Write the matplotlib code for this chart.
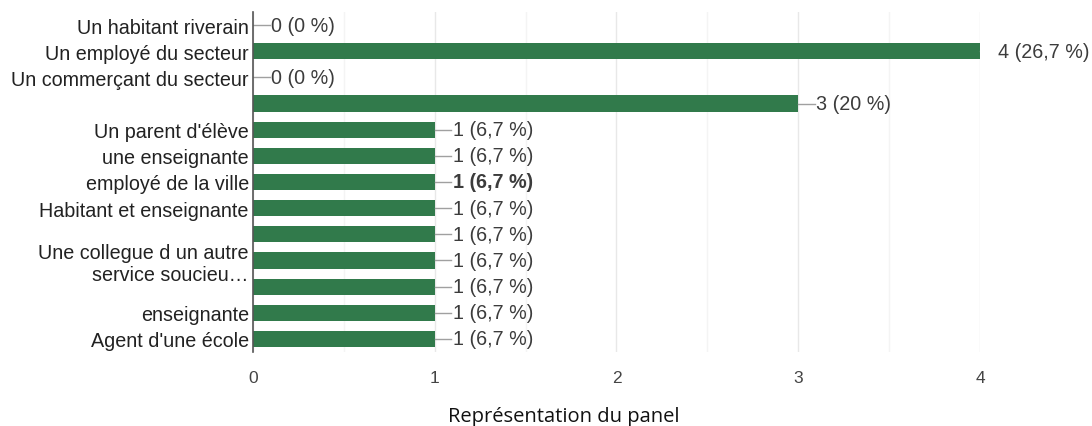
import matplotlib.pyplot as plt

plt.rcParams['font.family'] = ['Liberation Sans', 'DejaVu Sans']

categories = ["Un habitant riverain", "Un employé du secteur", "Un commerçant du secteur", "",
              "Un parent d'élève", "une enseignante", "employé de la ville", "Habitant et enseignante",
              "", "Une collegue d un autre\nservice soucieu…", "", "enseignante", "Agent d'une école"]
counts = [0, 4, 0, 3, 1, 1, 1, 1, 1, 1, 1, 1, 1]
value_labels = ["0 (0 %)", "4 (26,7 %)", "0 (0 %)", "3 (20 %)", "1 (6,7 %)", "1 (6,7 %)", "1 (6,7 %)",
                "1 (6,7 %)", "1 (6,7 %)", "1 (6,7 %)", "1 (6,7 %)", "1 (6,7 %)", "1 (6,7 %)"]
bold_row = 6
x_ticks = [0, 1, 2, 3, 4]

fig = plt.figure(figsize=(10.92, 4.27), dpi=100)
ax = fig.add_axes([0.2317, 0.1733, 0.6657, 0.7963])

ypos = list(range(len(categories)))
ax.barh(ypos, counts, height=0.62, color='#317a4b', zorder=3)

# value labels with a short leader line (clipped at the right edge like the original)
lead = 0.092
for i, (v, lab) in enumerate(zip(counts, value_labels)):
    ax.plot([v, v + lead], [i, i], color='#a0a0a0', lw=1, clip_on=True, zorder=4)
    ax.annotate(lab, xy=(v, i), xytext=(13, 0), textcoords='offset points',
                va='center', ha='left', fontsize=14.2, color='#3c3c3c',
                fontweight='bold' if i == bold_row else 'normal', annotation_clip=False)

ax.set_ylim(len(categories) - 0.5, -0.5)
ax.set_xlim(0, 4)
ax.set_yticks(ypos)
ax.set_yticklabels(categories, fontsize=14.2, color='#222222', linespacing=1.2)
ax.set_xticks(x_ticks)
ax.set_xticklabels([str(t) for t in x_ticks], fontsize=12.5, color='#444444')
ax.set_xticks([0.5, 1.5, 2.5, 3.5], minor=True)
ax.tick_params(axis='y', length=0, pad=3)
ax.tick_params(axis='x', which='both', length=0, pad=13)
ax.grid(axis='x', which='major', color='#e8e8e8', lw=1, zorder=0)
ax.grid(axis='x', which='minor', color='#f4f4f4', lw=1, zorder=0)
for s in ['top', 'right', 'bottom']:
    ax.spines[s].set_visible(False)
ax.spines['left'].set_color('#555555')
ax.spines['left'].set_linewidth(1.2)
ax.spines['left'].set_zorder(5)

fig.text(0.516, 0.024, "Représentation du panel", ha='center', va='center',
         fontsize=14.5, color='#111111', family=['Open Sans', 'DejaVu Sans'])

fig.savefig('out.png', dpi=100)
